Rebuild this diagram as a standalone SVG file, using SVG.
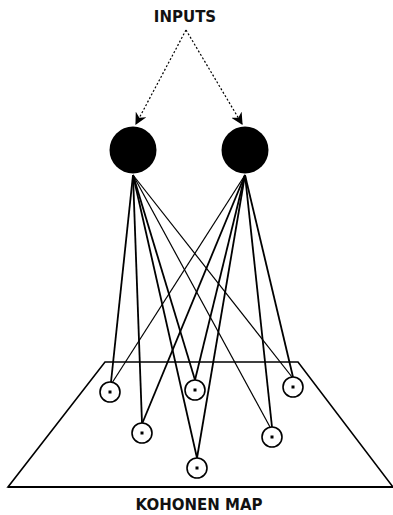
<svg xmlns="http://www.w3.org/2000/svg" width="393" height="515" viewBox="0 0 393 515">
<style>
.lbl{font-family:"DejaVu Sans",Verdana,sans-serif;font-weight:bold;font-size:15px;fill:#111;text-anchor:middle}
.w{stroke:#000;stroke-width:1.8;fill:none}
.t{stroke:#000;stroke-width:1.2;fill:none}
.in{fill:#000}
.out{fill:#fff;stroke:#000;stroke-width:1.6}
.dot{fill:#000}
.dash{stroke:#000;stroke-width:1.2;stroke-dasharray:2 2;fill:none}
</style>
<defs>
<marker id="ah" viewBox="0 0 10 10" refX="9" refY="5" markerWidth="12" markerHeight="12" markerUnits="userSpaceOnUse" orient="auto">
<path d="M0,0 L10,5 L0,10 L3,5 Z" fill="#000"/>
</marker>
</defs>
<rect width="393" height="515" fill="#fff"/>
<g id="map">
<polygon points="105,362 298,362 393,487 8,487" fill="none" stroke="#000" stroke-width="1.6"/>
<line x1="8" y1="487" x2="393" y2="487" stroke="#000" stroke-width="2"/>
</g>
<g id="connectors">
<line class="dash" x1="186" y1="30" x2="136" y2="124" marker-end="url(#ah)"/>
<line class="dash" x1="186" y1="30" x2="242" y2="124" marker-end="url(#ah)"/>
<line class="w" x1="133" y1="175" x2="111" y2="382"/>
<line class="w" x1="133" y1="175" x2="142" y2="423"/>
<line class="w" x1="133" y1="175" x2="195" y2="380"/>
<line class="w" x1="133" y1="175" x2="197" y2="458"/>
<line class="t" x1="133" y1="175" x2="270" y2="427"/>
<line class="t" x1="133" y1="175" x2="292" y2="377"/>
<line class="t" x1="245" y1="175" x2="112" y2="383"/>
<line class="w" x1="245" y1="175" x2="142" y2="424"/>
<line class="w" x1="245" y1="175" x2="195" y2="380"/>
<line class="w" x1="245" y1="175" x2="197" y2="458"/>
<line class="w" x1="245" y1="175" x2="272" y2="427"/>
<line class="w" x1="245" y1="175" x2="293" y2="377"/>
</g>
<g id="inputs">
<text class="lbl" x="185" y="22">INPUTS</text>
</g>
<g id="input1"><circle class="in" cx="133" cy="150" r="23.5"/></g>
<g id="input2"><circle class="in" cx="245" cy="150" r="23.5"/></g>
<g id="n1"><circle class="out" cx="110" cy="392" r="10"/><rect class="dot" x="108.5" y="390.5" width="3" height="3"/></g>
<g id="n2"><circle class="out" cx="142" cy="433" r="10"/><rect class="dot" x="140.5" y="431.5" width="3" height="3"/></g>
<g id="n3"><circle class="out" cx="195" cy="390" r="10"/><rect class="dot" x="193.5" y="388.5" width="3" height="3"/></g>
<g id="n4"><circle class="out" cx="197" cy="468" r="10"/><rect class="dot" x="195.5" y="466.5" width="3" height="3"/></g>
<g id="n5"><circle class="out" cx="272" cy="437" r="10"/><rect class="dot" x="270.5" y="435.5" width="3" height="3"/></g>
<g id="n6"><circle class="out" cx="293" cy="387" r="10"/><rect class="dot" x="291.5" y="385.5" width="3" height="3"/></g>
<g id="kohonen">
<text class="lbl" x="199" y="510">KOHONEN MAP</text>
</g>
</svg>
